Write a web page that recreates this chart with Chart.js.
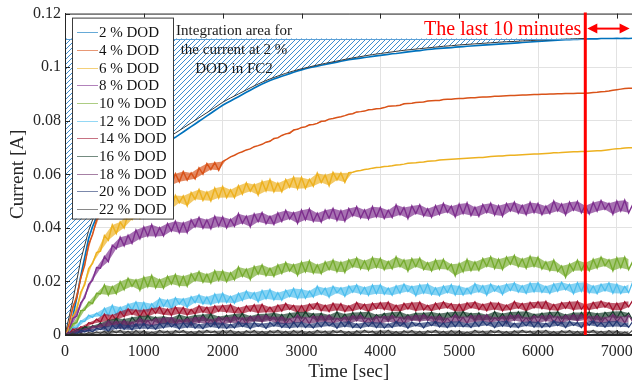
<!DOCTYPE html>
<html>
<head>
<meta charset="utf-8">
<style>
  html, body { margin: 0; padding: 0; overflow: hidden; background: #fff; }
  canvas { display: block; }
</style>
</head>
<body>
<canvas id="currentChart" width="640" height="383"></canvas>
<script src="https://cdn.jsdelivr.net/npm/chart.js"></script>
<script>
// logged currents, one value every 50 s from 0 to 7200 s, in mA
const sampleStep = 50;
// fitted 2 % curve, one value every 100 s up to the start of the last 10 minutes
const fitStep = 100;

const xTicks = [0, 1000, 2000, 3000, 4000, 5000, 6000, 7000];
const yTicks = [0, 0.02, 0.04, 0.06, 0.08, 0.1, 0.12];

const dodLabels = ['2 % DOD', '4 % DOD', '6 % DOD', '8 % DOD', '10 % DOD', '12 % DOD',
  '14 % DOD', '16 % DOD', '18 % DOD', '20 % DOD', '22 % DOD'];
const dodColors = ['#0072BD', '#D95319', '#EDB120', '#7E2F8E', '#77AC30', '#4DBEEE',
  '#A2142F', '#173d2b', '#6a2c68', '#233873', '#3b3b3b'];

const dod2 = [
  0, 2, 7, 14, 22, 29, 36, 40.5, 44, 47,
  49.5, 52, 54, 56, 58, 60, 61.5, 63, 64.5, 66,
  67, 68, 69, 70, 70.8, 71.5, 72.2, 73, 73.8, 74.8,
  75.8, 76.8, 77.8, 78.8, 79.8, 80.8, 81.8, 82.8, 83.8, 84.8,
  85.8, 86.6, 87.4, 88.2, 89, 89.8, 90.6, 91.4, 92.2, 93,
  93.7, 94.4, 95, 95.6, 96.1, 96.6, 97.1, 97.6, 98.1, 98.6,
  99, 99.4, 99.8, 100.1, 100.4, 100.7, 101, 101.3, 101.6, 101.9,
  102.2, 102.5, 102.8, 103, 103.2, 103.4, 103.6, 103.8, 104, 104.2,
  104.4, 104.6, 104.8, 105, 105.1, 105.3, 105.5, 105.7, 105.9, 106.1,
  106.2, 106.4, 106.6, 106.7, 106.9, 107, 107.1, 107.2, 107.3, 107.5,
  107.6, 107.7, 107.8, 107.9, 108, 108.1, 108.2, 108.3, 108.4, 108.5,
  108.6, 108.7, 108.8, 108.9, 109, 109.1, 109.2, 109.3, 109.4, 109.5,
  109.6, 109.7, 109.8, 109.9, 110, 110.1, 110.2, 110.3, 110.3, 110.4,
  110.4, 110.5, 110.5, 110.6, 110.6, 110.6, 110.7, 110.7, 110.7, 110.7,
  110.8, 110.7, 110.8, 110.7, 110.8
];
const dod4 = [
  0, 3.9, 10.6, 14.1, 21.4, 26.0, 33.8, 37.5, 43.0, 45.1,
  50.5, 49.0, 53.1, 51.8, 56.4, 53.9, 56.6, 53.5, 57.8, 55.5,
  57.6, 54.5, 58.6, 56.4, 59.4, 56.1, 58.7, 56.0, 60.2, 57.2,
  61.0, 57.8, 60.5, 58.3, 62.4, 60.1, 64.0, 61.8, 64.4, 61.5,
  64.8, 65.6, 66.5, 67.1, 67.9, 68.4, 69.1, 69.5, 70.3, 70.7,
  71.2, 72.0, 72.3, 73.4, 73.6, 74.5, 75.1, 75.3, 76.6, 76.8,
  77.5, 77.7, 78.5, 78.6, 79.0, 79.8, 79.9, 80.6, 80.8, 81.2,
  81.5, 81.9, 82.4, 82.6, 83.3, 83.4, 83.6, 84.1, 84.2, 84.5,
  84.6, 84.9, 85.4, 85.5, 85.6, 85.8, 86.3, 86.4, 86.5, 86.8,
  86.9, 87.0, 87.4, 87.5, 87.6, 87.6, 87.9, 88.0, 88.0, 88.2,
  88.3, 88.3, 88.5, 88.6, 88.6, 88.8, 88.9, 88.9, 89.0, 89.1,
  89.1, 89.2, 89.3, 89.4, 89.4, 89.5, 89.6, 89.6, 89.7, 89.8,
  89.8, 89.9, 89.9, 90.0, 90.0, 90.1, 90.1, 90.2, 90.2, 90.2,
  90.3, 90.3, 90.3, 90.4, 90.5, 90.6, 90.8, 90.9, 91.1, 91.4,
  91.6, 91.8, 92.0, 92.1, 92.1
];
const dod6 = [
  0, 2.1, 6.9, 9.4, 16.0, 18.8, 24.8, 26.7, 30.8, 31.3,
  37.1, 35.4, 41.1, 37.9, 42.2, 40.0, 45.3, 43.2, 47.5, 43.7,
  48.3, 44.7, 48.3, 46.1, 51.1, 47.8, 50.8, 47.1, 52.1, 49.4,
  51.9, 48.3, 53.2, 50.7, 54.3, 50.3, 53.4, 50.1, 54.8, 51.2,
  55.4, 51.3, 54.2, 51.3, 55.7, 52.6, 56.8, 53.7, 56.2, 52.3,
  57.3, 53.8, 58.0, 53.5, 56.7, 53.5, 58.0, 55.2, 58.9, 54.6,
  58.8, 54.8, 58.1, 55.6, 60.4, 56.9, 59.7, 55.8, 60.7, 57.9,
  60.5, 57.0, 60.6, 60.8, 61.2, 61.4, 61.8, 62.0, 62.3, 62.5,
  62.6, 62.9, 63.0, 63.2, 63.5, 63.6, 63.8, 64.1, 64.2, 64.3,
  64.5, 64.6, 64.9, 65.0, 65.1, 65.3, 65.4, 65.5, 65.6, 65.7,
  65.8, 65.9, 66.0, 66.1, 66.2, 66.3, 66.3, 66.5, 66.6, 66.7,
  66.8, 66.8, 67.0, 67.1, 67.1, 67.2, 67.3, 67.4, 67.5, 67.6,
  67.6, 67.7, 67.8, 67.9, 68.0, 68.0, 68.1, 68.2, 68.3, 68.4,
  68.4, 68.5, 68.5, 68.6, 68.7, 68.8, 68.8, 69.0, 69.2, 69.4,
  69.5, 69.6, 69.8, 69.9, 69.9
];
const dod8 = [
  0, 1.3, 6.3, 7.0, 12.0, 13.8, 18.9, 20.4, 25.2, 24.9,
  29.3, 27.4, 33.5, 32.2, 36.5, 33.3, 37.2, 34.2, 39.2, 35.9,
  40.3, 36.9, 41.2, 36.8, 40.1, 37.0, 41.6, 38.8, 42.5, 38.2,
  41.9, 38.2, 43.0, 40.4, 43.9, 39.9, 43.0, 39.7, 44.3, 40.6,
  44.1, 40.0, 43.2, 40.6, 45.3, 41.7, 44.4, 40.4, 45.2, 42.3,
  45.7, 41.5, 44.3, 41.3, 45.6, 42.4, 46.5, 43.3, 45.7, 41.7,
  46.6, 43.0, 47.1, 42.4, 45.5, 42.2, 46.6, 43.6, 47.2, 42.8,
  46.4, 42.5, 47.2, 44.5, 47.9, 43.7, 46.7, 43.3, 47.9, 44.1,
  47.6, 43.5, 46.6, 43.9, 48.6, 44.9, 47.6, 43.5, 48.2, 45.3,
  48.6, 44.4, 47.1, 44.0, 48.3, 45.0, 49.1, 45.8, 48.1, 44.1,
  48.9, 45.3, 49.3, 44.6, 47.7, 44.3, 48.7, 45.7, 49.2, 44.8,
  48.3, 44.4, 49.1, 46.3, 49.6, 45.5, 48.4, 44.9, 49.5, 45.7,
  49.1, 44.9, 48.1, 45.4, 50.0, 46.3, 48.9, 44.9, 49.6, 46.6,
  49.9, 45.6, 48.3, 45.2, 49.5, 46.2, 50.2, 46.9, 49.2, 45.1,
  50.0, 46.3, 50.3, 45.6, 48.6
];
const dod10 = [
  0, 0.6, 4.2, 4.6, 9.1, 9.3, 12.3, 11.7, 15.6, 15.3,
  18.7, 14.9, 18.1, 15.4, 19.9, 16.9, 21.2, 18.2, 20.6, 16.7,
  21.6, 18.0, 22.2, 17.6, 20.7, 17.5, 21.9, 19.0, 22.6, 18.3,
  21.9, 18.2, 22.9, 20.3, 23.7, 19.7, 22.7, 19.4, 24.0, 20.4,
  23.9, 19.9, 23.2, 20.6, 25.4, 21.9, 24.6, 20.7, 25.6, 22.7,
  26.2, 22.1, 24.9, 21.9, 26.2, 23.0, 27.1, 23.9, 26.3, 22.3,
  27.2, 23.6, 27.7, 23.1, 26.2, 22.9, 27.3, 24.4, 28.0, 23.6,
  27.2, 23.4, 28.1, 25.4, 28.8, 24.7, 27.7, 24.3, 28.9, 25.2,
  28.6, 24.4, 27.4, 24.7, 29.2, 25.5, 28.0, 23.9, 28.5, 25.5,
  28.7, 24.4, 27.0, 23.9, 28.0, 24.6, 28.2, 24.5, 26.4, 22.1,
  26.7, 23.6, 28.2, 24.0, 27.3, 24.1, 28.5, 25.6, 29.2, 24.8,
  28.3, 24.5, 29.1, 26.4, 29.7, 25.5, 28.4, 24.9, 29.4, 25.6,
  29.0, 24.6, 27.3, 24.0, 28.0, 23.7, 25.8, 21.6, 26.5, 24.0,
  27.9, 24.1, 27.0, 24.0, 28.3, 25.0, 29.1, 25.8, 28.1, 24.0,
  28.8, 25.1, 29.1, 24.4, 27.4
];
const dod12 = [
  0, 0.4, 2.9, 2.5, 5.3, 5.0, 7.4, 6.6, 8.2, 7.0,
  10.0, 7.3, 11.1, 7.5, 10.4, 7.8, 11.6, 9.3, 12.4, 8.6,
  12.2, 8.9, 11.7, 9.6, 13.7, 10.7, 13.1, 9.8, 13.9, 11.5,
  13.5, 10.3, 14.3, 12.1, 15.0, 11.6, 14.2, 11.3, 15.3, 12.1,
  15.6, 12.1, 14.5, 11.9, 15.6, 12.9, 16.4, 13.7, 15.8, 12.4,
  16.6, 13.5, 17.0, 13.1, 15.8, 13.0, 16.7, 14.3, 17.4, 13.6,
  17.1, 13.7, 16.4, 14.2, 18.2, 15.2, 17.5, 14.1, 18.2, 15.7,
  17.6, 14.4, 18.3, 16.0, 18.8, 15.3, 17.8, 14.8, 18.7, 15.4,
  18.8, 15.2, 17.5, 14.8, 18.4, 15.6, 19.0, 16.2, 18.2, 14.7,
  18.8, 15.6, 19.0, 15.0, 17.6, 14.7, 18.3, 15.8, 18.8, 14.9,
  18.3, 14.9, 17.5, 15.3, 19.2, 16.1, 18.4, 14.9, 19.0, 16.4,
  18.3, 15.1, 19.0, 16.6, 19.5, 16.0, 18.4, 15.5, 19.4, 16.1,
  19.5, 15.9, 18.2, 15.5, 19.1, 16.3, 19.7, 16.9, 18.9, 15.4,
  19.5, 16.3, 19.7, 15.7, 18.3, 15.4, 19.0, 16.5, 19.5, 15.6,
  19.0, 15.5, 18.1, 15.8, 19.7
];
const dod14 = [
  0, 0.2, 2.3, 1.4, 3.1, 2.5, 4.6, 4.2, 5.9, 4.8,
  7.8, 5.2, 7.5, 5.6, 8.8, 6.8, 9.8, 7.7, 9.4, 6.7,
  9.4, 6.8, 10.0, 8.1, 10.5, 7.6, 9.7, 7.3, 10.5, 7.9,
  10.3, 7.4, 9.6, 7.8, 11.0, 8.5, 10.4, 7.6, 10.9, 8.8,
  11.1, 8.5, 11.4, 8.1, 10.2, 7.9, 10.9, 8.9, 11.3, 8.2,
  11.5, 8.5, 10.4, 8.3, 11.2, 8.9, 11.8, 9.5, 11.1, 8.3,
  11.0, 8.3, 11.6, 9.7, 12.0, 9.0, 11.1, 8.7, 11.9, 9.2,
  11.7, 8.7, 10.9, 9.0, 12.2, 9.7, 11.5, 8.6, 11.9, 9.8,
  12.1, 9.5, 12.3, 9.0, 11.1, 8.8, 11.8, 9.7, 12.1, 9.0,
  12.3, 9.3, 11.1, 9.0, 11.9, 9.6, 12.4, 10.1, 11.7, 8.8,
  11.5, 8.8, 12.0, 10.1, 12.4, 9.4, 11.5, 9.0, 12.2, 9.5,
  12.0, 9.0, 11.2, 9.3, 12.5, 10.0, 11.8, 8.9, 12.2, 10.1,
  12.4, 9.8, 12.6, 9.3, 11.4, 9.1, 12.1, 10.0, 12.4, 9.3,
  12.6, 9.6, 11.5, 9.3, 12.2, 9.9, 12.7, 10.4, 12.0, 9.2,
  11.9, 9.2, 12.4, 10.5, 12.8
];
const dod16 = [
  0, 0.9, 0.1, 2.1, 1.6, 3.2, 2.2, 3.5, 2.9, 4.5,
  2.6, 5.6, 3.8, 6.3, 3.6, 6.0, 3.5, 6.6, 4.9, 7.1,
  4.7, 7.3, 5.3, 6.7, 4.2, 7.0, 4.3, 6.4, 4.6, 7.7,
  4.9, 6.8, 4.6, 7.5, 5.1, 7.7, 5.3, 7.9, 4.9, 6.9,
  5.6, 7.4, 4.7, 7.8, 5.9, 8.1, 5.3, 7.1, 5.1, 7.8,
  5.0, 7.9, 5.9, 8.3, 5.4, 7.7, 5.2, 8.2, 6.4, 8.6,
  6.1, 8.7, 6.6, 8.0, 5.4, 8.2, 5.4, 7.5, 5.7, 8.7,
  5.9, 7.8, 5.5, 8.4, 6.0, 8.5, 6.1, 8.7, 5.6, 7.6,
  6.4, 8.1, 5.4, 8.5, 6.5, 8.7, 5.9, 7.6, 5.6, 8.3,
  5.5, 8.3, 6.3, 8.6, 5.7, 8.0, 5.4, 8.4, 6.6, 8.7,
  6.2, 8.8, 6.7, 8.1, 5.5, 8.3, 5.5, 7.6, 5.8, 8.8,
  6.1, 8.0, 5.7, 8.6, 6.2, 8.7, 6.3, 8.9, 5.8, 7.8,
  6.5, 8.2, 5.5, 8.6, 6.6, 8.8, 6.0, 7.7, 5.7, 8.4,
  5.6, 8.4, 6.4, 8.7, 5.8, 8.1, 5.5, 8.5, 6.7, 8.8,
  6.3, 8.9, 6.8, 8.2, 5.6
];
const dod18 = [
  0, 0.9, 0.3, 1.9, 0.8, 2.3, 1.5, 3.3, 2.7, 4.0,
  2.5, 5.3, 3.4, 5.0, 2.5, 5.4, 2.7, 4.9, 3.2, 6.3,
  3.6, 5.5, 3.3, 6.2, 3.9, 6.4, 4.1, 6.7, 3.6, 5.7,
  4.4, 6.1, 3.5, 6.6, 4.6, 6.9, 4.1, 5.8, 3.8, 6.6,
  3.8, 6.6, 4.7, 7.0, 4.1, 6.4, 3.9, 6.9, 5.1, 7.2,
  4.8, 7.4, 5.2, 6.7, 4.1, 6.9, 4.1, 6.1, 4.4, 7.4,
  4.6, 6.5, 4.2, 7.1, 4.7, 7.2, 4.8, 7.4, 4.3, 6.3,
  5.1, 6.8, 4.1, 7.2, 5.2, 7.4, 4.6, 6.3, 4.3, 7.0,
  4.2, 7.0, 5.0, 7.3, 4.4, 6.7, 4.1, 7.1, 5.3, 7.4,
  5.0, 7.6, 5.4, 6.9, 4.3, 7.1, 4.3, 6.3, 4.6, 7.6,
  4.8, 6.7, 4.4, 7.3, 4.9, 7.4, 5.0, 7.6, 4.5, 6.5,
  5.3, 7.0, 4.3, 7.4, 5.4, 7.6, 4.8, 6.5, 4.5, 7.2,
  4.4, 7.2, 5.2, 7.5, 4.6, 6.9, 4.3, 7.3, 5.5, 7.6,
  5.1, 7.7, 5.6, 7.0, 4.4, 7.2, 4.4, 6.5, 4.7, 7.7,
  4.9, 6.8, 4.5, 7.4, 5.0
];
const dod20 = [
  0, 0.05, 0.7, 0.3, 1.8, 1.1, 2.0, 1.2, 2.5, 2.0,
  3.1, 1.2, 3.6, 2.3, 4.1, 2.1, 3.6, 1.9, 4.2, 2.3,
  4.4, 2.3, 3.7, 2.1, 4.3, 2.6, 4.7, 3.0, 4.2, 2.2,
  4.6, 2.8, 4.8, 2.5, 4.0, 2.3, 4.5, 3.0, 4.8, 2.5,
  4.5, 2.4, 4.0, 2.6, 4.9, 3.1, 4.4, 2.3, 4.7, 3.2,
  4.3, 2.4, 4.7, 3.3, 4.9, 2.8, 4.3, 2.5, 4.8, 2.9,
  4.9, 2.8, 4.1, 2.6, 4.7, 3.0, 5.0, 3.4, 4.5, 2.5,
  4.9, 3.1, 5.1, 2.7, 4.2, 2.5, 4.7, 3.2, 4.9, 2.7,
  4.7, 2.6, 4.2, 2.8, 5.1, 3.3, 4.6, 2.5, 4.9, 3.4,
  4.5, 2.6, 4.9, 3.5, 5.1, 3.0, 4.5, 2.7, 5.0, 3.1,
  5.1, 3.0, 4.3, 2.8, 4.9, 3.2, 5.2, 3.6, 4.7, 2.7,
  5.1, 3.3, 5.3, 2.9, 4.4, 2.7, 4.9, 3.4, 5.1, 2.9,
  4.9, 2.8, 4.4, 3.0, 5.3, 3.5, 4.8, 2.7, 5.1, 3.6,
  4.7, 2.7, 5.0, 3.6, 5.3, 3.2, 4.6, 2.9, 5.1, 3.2,
  5.2, 3.1, 4.4, 2.9, 5.0
];
const dod22 = [
  0, 0, 0.6, 0, 0.6, 0.2, 0.9, 0.5, 1.2, 0.6,
  1.4, 0.2, 1.6, 0.8, 1.8, 0.5, 1.4, 0.3, 1.7, 0.5,
  1.6, 0.3, 1.2, 0.4, 1.8, 0.7, 1.5, 0.2, 1.7, 0.8,
  1.7, 0.5, 1.3, 0.3, 1.6, 0.6, 1.8, 0.8, 1.5, 0.3,
  1.7, 0.6, 1.8, 0.4, 1.3, 0.3, 1.6, 0.7, 1.7, 0.4,
  1.4, 0.3, 1.6, 0.7, 1.8, 0.5, 1.4, 0.3, 1.7, 0.6,
  1.6, 0.3, 1.3, 0.4, 1.8, 0.7, 1.5, 0.2, 1.7, 0.8,
  1.7, 0.5, 1.3, 0.3, 1.6, 0.6, 1.8, 0.8, 1.5, 0.3,
  1.7, 0.6, 1.8, 0.4, 1.3, 0.3, 1.6, 0.7, 1.7, 0.4,
  1.4, 0.2, 1.6, 0.8, 1.8, 0.5, 1.4, 0.3, 1.7, 0.5,
  1.6, 0.3, 1.2, 0.4, 1.8, 0.7, 1.5, 0.2, 1.7, 0.8,
  1.7, 0.5, 1.3, 0.3, 1.6, 0.6, 1.8, 0.8, 1.5, 0.3,
  1.7, 0.6, 1.8, 0.4, 1.3, 0.3, 1.6, 0.7, 1.7, 0.4,
  1.4, 0.2, 1.6, 0.8, 1.8, 0.5, 1.4, 0.3, 1.7, 0.5,
  1.6, 0.3, 1.2, 0.4, 1.8
];
const fitDod2 = [
  0, 13, 28, 39, 47, 53, 57.5, 61, 64, 66.5,
  68.6, 70.5, 72.2, 73.7, 75.4, 77.3, 79.2, 81.1, 83.0, 84.9,
  86.9, 88.5, 90.0, 91.5, 93.0, 94.4, 95.6, 96.7, 97.7, 98.6,
  99.4, 100.1, 100.8, 101.4, 102, 102.6, 103.2, 103.7, 104.2, 104.7,
  105.1, 105.5, 105.9, 106.3, 106.6, 106.9, 107.2, 107.5, 107.8, 108,
  108.3, 108.5, 108.7, 108.9, 109.1, 109.3, 109.5, 109.6, 109.8, 109.9,
  110.1, 110.2, 110.3, 110.4, 110.5, 110.6, 110.7
];

const dodSeries = [dod2, dod4, dod6, dod8, dod10, dod12, dod14, dod16, dod18, dod20, dod22];
const dodWidths = [1.7, 1.5, 1.5, 1.4, 1.4, 1.3, 1.3, 1.2, 1.2, 1.2, 1.1];
// records whose noise is shaded as a band between alternate samples
const noisyRecords = [1, 2, 3, 4, 5, 6, 7, 8, 9, 10];
const topEdge = 110.7;          // mA, upper bound of the integration area
const lastWindowStart = 6600;   // sec, start of the last 10 minutes

const serif = 'Liberation Serif';
const axisColor = '#262626';

function toPoints(values, step) {
  return values.map((v, i) => ({ x: i * step, y: v / 1000 }));
}

function fadeColor(hex, alpha) {
  const n = parseInt(hex.slice(1), 16);
  return `rgba(${(n >> 16) & 255}, ${(n >> 8) & 255}, ${n & 255}, ${alpha})`;
}

const canvas = document.getElementById('currentChart');
const ctx2d = canvas.getContext('2d');

// diagonal blue hatch on white for the integration area
function makeHatch() {
  const c = document.createElement('canvas');
  c.width = 5; c.height = 5;
  const g = c.getContext('2d');
  g.fillStyle = '#fff';
  g.fillRect(0, 0, 5, 5);
  g.strokeStyle = '#3b8ccf';
  g.lineWidth = 1;
  g.beginPath();
  g.moveTo(-1, 6); g.lineTo(6, -1);
  g.moveTo(-1, 1); g.lineTo(1, -1);
  g.moveTo(4, 6); g.lineTo(6, 4);
  g.stroke();
  return ctx2d.createPattern(c, 'repeat');
}

const datasets = [];
dodSeries.forEach((vals, i) => {
  const pts = toPoints(vals, sampleStep);
  if (noisyRecords.includes(i)) {
    // peaks and troughs of the record, filled between to show the noise band
    datasets.push({
      label: dodLabels[i] + ' a',
      data: pts.filter((p, k) => k % 2 === 0),
      borderWidth: 0,
      pointRadius: 0,
      fill: false,
      order: 12 - i + 0.5
    });
    datasets.push({
      label: dodLabels[i] + ' b',
      data: pts.filter((p, k) => k % 2 === 1),
      borderWidth: 0,
      pointRadius: 0,
      fill: '-1',
      backgroundColor: fadeColor(dodColors[i], 0.68),
      order: 12 - i + 0.5
    });
  }
  datasets.push({
    label: dodLabels[i],
    data: pts,
    borderColor: dodColors[i],
    borderWidth: dodWidths[i],
    pointRadius: 0,
    fill: false,
    order: 12 - i
  });
});

datasets.push({
  label: 'fit',
  data: toPoints(fitDod2, fitStep),
  borderColor: '#3a3a3a',
  borderWidth: 1,
  pointRadius: 0,
  fill: { value: topEdge / 1000 },
  backgroundColor: makeHatch(),
  order: 0
});

const overlay = {
  id: 'overlay',
  beforeDatasetsDraw(chart) {
    const { ctx, chartArea: a, scales: { y } } = chart;
    const yTop = y.getPixelForValue(topEdge / 1000);
    ctx.save();
    ctx.fillStyle = '#fff';
    ctx.fillRect(a.left + 1, a.top, a.right - a.left, yTop - a.top);
    ctx.restore();
  },
  afterDatasetsDraw(chart) {
    const { ctx, chartArea: a, scales: { x, y } } = chart;
    ctx.save();
    // upper edge of the hatched area
    const yTop = Math.round(y.getPixelForValue(topEdge / 1000)) + 0.5;
    ctx.strokeStyle = '#5a9fd6';
    ctx.lineWidth = 1;
    ctx.beginPath();
    ctx.moveTo(x.getPixelForValue(0), yTop);
    ctx.lineTo(x.getPixelForValue(lastWindowStart), yTop);
    ctx.stroke();

    // axes box with inward ticks
    ctx.strokeStyle = axisColor;
    ctx.beginPath();
    ctx.moveTo(a.left + 0.5, a.bottom);
    ctx.lineTo(a.left + 0.5, a.top + 0.5);
    ctx.lineTo(a.right, a.top + 0.5);
    ctx.moveTo(a.left, a.bottom - 0.5);
    ctx.lineTo(a.right, a.bottom - 0.5);
    xTicks.forEach(v => {
      const px = Math.round(x.getPixelForValue(v)) + 0.5;
      ctx.moveTo(px, a.top); ctx.lineTo(px, a.top + 5);
      ctx.moveTo(px, a.bottom); ctx.lineTo(px, a.bottom - 5);
    });
    yTicks.forEach(v => {
      const py = Math.round(y.getPixelForValue(v)) + 0.5;
      ctx.moveTo(a.left, py); ctx.lineTo(a.left + 5, py);
    });
    ctx.stroke();

    // start of the last 10 minutes
    const xr = x.getPixelForValue(lastWindowStart);
    ctx.strokeStyle = '#ff0000';
    ctx.lineWidth = 3;
    ctx.beginPath();
    ctx.moveTo(xr, a.top - 1);
    ctx.lineTo(xr, a.bottom);
    ctx.stroke();
    ctx.restore();
  },
  afterDraw(chart) {
    const { ctx, chartArea: a, scales: { x } } = chart;
    ctx.save();

    // legend box
    const lx = a.left + 7, ly = a.top + 4, lw = 101, lh = 201;
    ctx.fillStyle = '#fff';
    ctx.fillRect(lx, ly, lw, lh);
    ctx.strokeStyle = '#3c3c3c';
    ctx.lineWidth = 1;
    ctx.strokeRect(lx + 0.5, ly + 0.5, lw, lh);
    ctx.font = `15px "${serif}"`;
    ctx.textBaseline = 'middle';
    ctx.textAlign = 'left';
    dodLabels.forEach((lab, i) => {
      const ry = Math.round(ly + 14.7 + i * 17.66) + 0.5;
      ctx.strokeStyle = fadeColor(dodColors[i], 0.6);
      ctx.beginPath();
      ctx.moveTo(lx + 5, ry);
      ctx.lineTo(lx + 26, ry);
      ctx.stroke();
      ctx.fillStyle = '#111';
      ctx.fillText(lab, lx + 27, ry + 0.5);
    });

    // note on the hatched area
    ctx.fillStyle = '#1a1a1a';
    ctx.textAlign = 'center';
    ctx.textBaseline = 'alphabetic';
    const cx = a.left + 169;
    ctx.fillText('Integration area for', cx, a.top + 21);
    ctx.fillText('the current at 2 %', cx, a.top + 40);
    ctx.fillText('DOD in FC2', cx, a.top + 59);

    // last 10 minutes label and arrow
    const xr = x.getPixelForValue(lastWindowStart);
    ctx.fillStyle = '#ff0000';
    ctx.font = `20px "${serif}"`;
    ctx.textAlign = 'right';
    ctx.fillText('The last 10 minutes', xr - 4, a.top + 21);

    const ay = a.top + 15;
    const x0 = xr + 2, x1 = a.right - 3;
    ctx.strokeStyle = '#ff0000';
    ctx.lineWidth = 2;
    ctx.beginPath();
    ctx.moveTo(x0 + 6, ay);
    ctx.lineTo(x1 - 6, ay);
    ctx.stroke();
    ctx.beginPath();
    ctx.moveTo(x0, ay); ctx.lineTo(x0 + 10, ay - 5); ctx.lineTo(x0 + 10, ay + 5); ctx.closePath();
    ctx.moveTo(x1, ay); ctx.lineTo(x1 - 10, ay - 5); ctx.lineTo(x1 - 10, ay + 5); ctx.closePath();
    ctx.fill();
    ctx.restore();
  }
};

new Chart(canvas, {
  type: 'line',
  data: { datasets },
  options: {
    responsive: false,
    animation: false,
    devicePixelRatio: 1,
    layout: { padding: { top: 13, right: 6, left: 0, bottom: 0 } },
    plugins: { legend: { display: false }, tooltip: { enabled: false } },
    scales: {
      x: {
        type: 'linear',
        min: 0,
        max: 7200,
        afterFit: s => { s.height = 48; },
        afterBuildTicks: s => { s.ticks = xTicks.map(v => ({ value: v })); },
        grid: { color: '#e2e2e2', drawTicks: false },
        border: { color: axisColor },
        ticks: {
          padding: 7,
          color: axisColor,
          maxRotation: 0,
          autoSkip: false,
          font: { family: serif, size: 16 },
          callback: v => String(v)
        },
        title: {
          display: true,
          text: 'Time [sec]',
          color: axisColor,
          font: { family: serif, size: 19 },
          padding: { top: 0, bottom: 0 }
        }
      },
      y: {
        type: 'linear',
        min: 0,
        max: 0.12,
        afterFit: s => { s.width = 65; },
        afterBuildTicks: s => { s.ticks = yTicks.map(v => ({ value: v })); },
        grid: { color: '#e2e2e2', drawTicks: false },
        border: { color: axisColor },
        ticks: {
          padding: 4,
          color: axisColor,
          font: { family: serif, size: 16 },
          callback: v => String(Number(v.toFixed(2)))
        },
        title: {
          display: true,
          text: 'Current [A]',
          color: axisColor,
          font: { family: serif, size: 19 },
          padding: { top: 7, bottom: 0 }
        }
      }
    }
  },
  plugins: [overlay]
});
</script>
</body>
</html>
